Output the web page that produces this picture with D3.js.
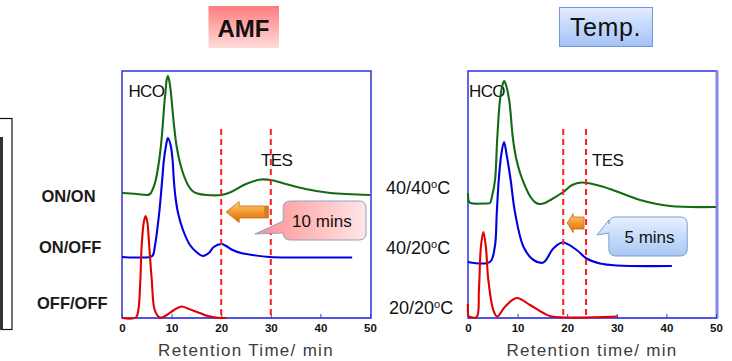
<!DOCTYPE html>
<html>
<head>
<meta charset="utf-8">
<script src="https://cdn.jsdelivr.net/npm/d3@7"></script>
<style>
    body { margin: 0; background: #fff; }
    text { font-family: "Liberation Sans", Arial, sans-serif; }
</style>
</head>
<body>
<script>
// retention time (min), signal (a.u., offset per trace)
var amfOnOn = [[0, 125], [3, 124], [5.5, 123.5], [6.3, 130], [6.8, 138], [7.5, 158], [8.0, 180], [8.6, 218], [8.8, 228],
    [9.0, 238], [9.25, 242], [9.5, 238], [9.8, 228], [10.0, 218], [10.5, 192], [11.0, 172], [11.7, 155], [12.5, 142],
    [13.3, 133], [14.2, 127], [15.2, 124.5], [17, 123], [20, 123], [22, 126], [25, 134], [28, 138.5], [30, 138],
    [33, 134], [37, 129], [42, 125], [50, 123]];
var amfOnOff = [[0, 61], [3, 60.5], [6.1, 62], [6.6, 71], [7.5, 105], [8.1, 138], [8.45, 158], [8.9, 173], [9.25, 180],
    [9.8, 173], [10.2, 158], [10.45, 138], [10.8, 120], [11.3, 105], [12.3, 88], [13.7, 73], [15, 66], [16.3, 62],
    [17.5, 65], [18.5, 71], [20, 74], [21, 72], [22.3, 68], [24, 65], [26.3, 63], [29.8, 61], [35, 60.5], [46.4, 60.5]];
var amfOffOff = [[0, 0], [2.8, 0.5], [3.3, 8], [3.7, 38], [3.95, 71], [4.4, 96], [4.75, 102], [5.1, 96], [5.5, 71],
    [6.0, 38], [6.6, 8], [7.6, 0.5], [8.3, 1], [9, 3], [10.5, 8], [12, 11.5], [13.5, 9], [15.7, 5], [17.3, 2],
    [18.9, 0.5], [21, 0]];

var temp4040 = [[0, 125], [0.15, 117], [0.5, 115], [3.5, 114.5], [4.4, 115], [4.9, 123], [5.45, 138], [5.9, 180],
    [6.45, 218], [7.0, 234], [7.3, 237], [7.6, 234], [8.3, 218], [9.05, 180], [9.7, 160], [10.5, 145], [11.5, 132],
    [12.6, 121], [13.6, 115.5], [14.5, 114], [15.5, 115], [16.8, 118.5], [19.2, 126], [21, 133], [22.9, 135.5],
    [26, 133], [29.2, 128], [34.7, 118], [40.7, 112], [50, 111]];
var temp4020 = [[0, 56], [4.4, 56], [5.4, 71], [5.8, 105], [6.2, 138], [6.7, 163], [7.26, 176], [7.8, 163],
    [8.6, 138], [9.5, 105], [11.2, 71], [13.2, 58], [15.2, 55.5], [17.2, 69.5], [19.1, 75.5], [21.9, 68],
    [23.9, 59.5], [26.6, 54.5], [30, 52.5], [41.1, 52]];
var temp2020 = [[0, 14], [0.1, 2], [0.4, 1], [1.75, 1], [2.2, 28], [2.6, 71], [3.1, 86], [3.6, 71], [4.1, 38],
    [5.1, 8], [5.9, 1.5], [7.5, 11.5], [9.8, 20], [12.5, 13], [15.2, 5], [16.9, 1.5], [30.1, 1.5]];

var tickValues = [0, 10, 20, 30, 40, 50];
var amfLabels = ["ON/ON", "ON/OFF", "OFF/OFF"];
var tempLabels = ["40/40", "40/20", "20/20"];
var amfMarkers = [20, 30];
var tempMarkers = [19.2, 23.8];
var amfShift = "10 mins";
var tempShift = "5 mins";

var colors = ["#136b13", "#0000e0", "#e00000"];

var svg = d3.select("body").append("svg")
    .attr("width", 732)
    .attr("height", 361);

var defs = svg.append("defs");

function gradient(id, horizontal, stops) {
    var grad = defs.append("linearGradient")
        .attr("id", id)
        .attr("x1", 0).attr("y1", 0)
        .attr("x2", horizontal ? 1 : 0)
        .attr("y2", horizontal ? 0 : 1);
    stops.forEach(function(c, i) {
        grad.append("stop")
            .attr("offset", i / (stops.length - 1))
            .attr("stop-color", c);
    });
}
gradient("pinkTitle", false, ["#ff7c7c", "#ffdcdc"]);
gradient("blueTitle", false, ["#e2ecff", "#a4c2f6"]);
gradient("pinkCallout", true, ["#ff8e8e", "#ffe6e6"]);
gradient("blueCallout", false, ["#e8f0ff", "#a8c7f3"]);
gradient("orange", false, ["#fcd27a", "#f19a30", "#d86a08"]);

// partial frame cut at the left edge
svg.append("rect")
    .attr("x", -10).attr("y", 118.5)
    .attr("width", 22).attr("height", 211)
    .attr("fill", "none")
    .attr("stroke", "#111")
    .attr("stroke-width", 1.2);
svg.append("line")
    .attr("x1", 1.5).attr("x2", 1.5)
    .attr("y1", 137).attr("y2", 330)
    .attr("stroke", "#333")
    .attr("stroke-width", 3);

var y = d3.scaleLinear().domain([0, 247]).range([318, 71]);

function drawPanel(p) {
    var x = d3.scaleLinear().domain([0, 50]).range([p.left, p.right]);
    var g = svg.append("g");

    g.append("rect")
        .attr("x", p.left).attr("y", y(247))
        .attr("width", p.right - p.left + 1)
        .attr("height", y(0) - y(247))
        .attr("fill", "none")
        .attr("stroke", "#2323dd")
        .attr("stroke-width", 1.4);
    g.append("line")
        .attr("x1", p.left).attr("x2", p.right + 1)
        .attr("y1", y(0)).attr("y2", y(0))
        .attr("stroke", "#5252e4")
        .attr("stroke-width", 2);
    if (p.rightEdge) {
        g.append("line")
            .attr("x1", p.right + 1).attr("x2", p.right + 1)
            .attr("y1", y(247)).attr("y2", y(0))
            .attr("stroke", "#8585ea")
            .attr("stroke-width", 3);
    }

    var axis = g.append("g")
        .attr("transform", "translate(0," + y(0) + ")")
        .call(d3.axisBottom(x)
            .tickValues(tickValues)
            .tickSizeInner(-4)
            .tickSizeOuter(0)
            .tickPadding(6));
    axis.select(".domain").remove();
    axis.selectAll(".tick line").attr("stroke", "#3a3ae0");
    axis.selectAll(".tick text")
        .style("font-family", "'Liberation Sans', Arial, sans-serif")
        .style("font-size", "11.5px")
        .style("font-weight", "bold")
        .attr("fill", "#111");

    g.append("text")
        .attr("x", (p.left + p.right) / 2)
        .attr("y", 356)
        .attr("text-anchor", "middle")
        .style("font-size", "17px")
        .style("letter-spacing", "1.3px")
        .attr("fill", "#3c3c3c")
        .text(p.xTitle);

    g.append("text")
        .attr("x", x(p.hco[0])).attr("y", y(p.hco[1]))
        .style("font-size", "17px")
        .style("letter-spacing", "-0.6px")
        .attr("fill", "#111")
        .text("HCO");
    g.append("text")
        .attr("x", x(p.tes[0])).attr("y", y(p.tes[1]))
        .style("font-size", "17px")
        .style("letter-spacing", "-0.6px")
        .attr("fill", "#111")
        .text("TES");

    var line = d3.line()
        .x(function(d) { return x(d[0]); })
        .y(function(d) { return y(d[1]); })
        .curve(d3.curveCatmullRom.alpha(0.5));

    g.selectAll(".trace")
        .data(p.series)
        .enter().append("path")
        .attr("class", "trace")
        .attr("d", line)
        .attr("fill", "none")
        .attr("stroke", function(d, i) { return colors[i]; })
        .attr("stroke-width", 2.1)
        .attr("stroke-linejoin", "round");

    g.selectAll(".marker")
        .data(p.markers)
        .enter().append("line")
        .attr("class", "marker")
        .attr("x1", function(d) { return x(d); })
        .attr("x2", function(d) { return x(d); })
        .attr("y1", y(189))
        .attr("y2", y(0))
        .attr("stroke", "#ff1c1c")
        .attr("stroke-width", 2)
        .attr("stroke-dasharray", "6,4");

    return x;
}

var xl = drawPanel({
    left: 122, right: 370,
    series: [amfOnOn, amfOnOff, amfOffOff],
    markers: amfMarkers,
    hco: [1.3, 221], tes: [28, 152],
    xTitle: "Retention Time/ min"
});
var xr = drawPanel({
    left: 468, right: 716, rightEdge: true,
    series: [temp4040, temp4020, temp2020],
    markers: tempMarkers,
    hco: [0.2, 221], tes: [25, 152],
    xTitle: "Retention time/ min"
});

// row labels
svg.selectAll(".amfLabel")
    .data(amfLabels)
    .enter().append("text")
    .attr("class", "amfLabel")
    .attr("x", function(d, i) { return [41.5, 39, 37][i]; })
    .attr("y", function(d, i) { return [202, 253, 309][i]; })
    .style("font-size", "16.5px")
    .style("font-weight", "bold")
    .attr("fill", "#1a1a1a")
    .text(function(d) { return d; });

var tl = svg.selectAll(".tempLabel")
    .data(tempLabels)
    .enter().append("text")
    .attr("class", "tempLabel")
    .attr("x", function(d, i) { return [386, 386, 389][i]; })
    .attr("y", function(d, i) { return [194, 254, 314][i]; })
    .style("font-size", "18px")
    .attr("fill", "#111");
tl.append("tspan").text(function(d) { return d; });
tl.append("tspan").attr("dy", -6).style("font-size", "11px").text("o");
tl.append("tspan").attr("dy", 6).text("C");

// titles
svg.append("rect")
    .attr("x", 208.5).attr("y", 6)
    .attr("width", 70.5).attr("height", 42)
    .attr("fill", "url(#pinkTitle)");
svg.append("text")
    .attr("x", 243.5).attr("y", 36.5)
    .attr("text-anchor", "middle")
    .style("font-size", "24px")
    .style("font-weight", "bold")
    .attr("fill", "#111")
    .text("AMF");

svg.append("rect")
    .attr("x", 559.5).attr("y", 7.5)
    .attr("width", 93).attr("height", 39)
    .attr("fill", "url(#blueTitle)")
    .attr("stroke", "#6f98d4")
    .attr("stroke-width", 1);
svg.append("text")
    .attr("x", 605.5).attr("y", 36)
    .attr("text-anchor", "middle")
    .style("font-size", "25px")
    .style("letter-spacing", "0.6px")
    .attr("fill", "#111")
    .text("Temp.");

// shift arrows and callouts
function arrowPath(x, tip, end, cy, headH, shaftH, headLen) {
    var tx = x(tip), ex = x(end), cyp = y(cy), hx = tx + headLen;
    return "M" + tx + "," + cyp +
        "L" + hx + "," + (cyp - headH / 2) +
        "L" + hx + "," + (cyp - shaftH / 2) +
        "L" + ex + "," + (cyp - shaftH / 2) +
        "L" + ex + "," + (cyp + shaftH / 2) +
        "L" + hx + "," + (cyp + shaftH / 2) +
        "L" + hx + "," + (cyp + headH / 2) + "Z";
}

function calloutPath(x, c) {
    var x0 = x(c.t0), x1 = x(c.t1), y0 = y(c.s0), y1 = y(c.s1), r = 7;
    return "M" + (x0 + r) + "," + y0 +
        "H" + (x1 - r) + "Q" + x1 + "," + y0 + " " + x1 + "," + (y0 + r) +
        "V" + (y1 - r) + "Q" + x1 + "," + y1 + " " + (x1 - r) + "," + y1 +
        "H" + (x0 + r) + "Q" + x0 + "," + y1 + " " + x0 + "," + (y1 - r) +
        "V" + y(c.base[1]) +
        "L" + x(c.tip[0]) + "," + y(c.tip[1]) +
        "L" + x0 + "," + y(c.base[0]) +
        "V" + (y0 + r) + "Q" + x0 + "," + y0 + " " + (x0 + r) + "," + y0 + "Z";
}

svg.append("path")
    .attr("d", arrowPath(xl, 21, 29.5, 106, 21, 12, 13))
    .attr("fill", "url(#orange)")
    .attr("stroke", "#c56a10")
    .attr("stroke-width", 0.8);
svg.append("rect")
    .attr("x", xl(29.5) - 4).attr("y", y(106) - 6)
    .attr("width", 4).attr("height", 12)
    .attr("fill", "#d77a1c");

svg.append("path")
    .attr("d", arrowPath(xr, 20, 23.4, 95, 19, 12, 6))
    .attr("fill", "url(#orange)")
    .attr("stroke", "#c56a10")
    .attr("stroke-width", 0.8);

svg.append("path")
    .attr("d", calloutPath(xl, { t0: 32.5, t1: 49.2, s0: 117, s1: 78, base: [97, 85], tip: [26.8, 84] }))
    .attr("fill", "url(#pinkCallout)")
    .attr("stroke", "#8aa3cc")
    .attr("stroke-width", 1);
svg.append("text")
    .attr("x", xl(40.3)).attr("y", y(91.5))
    .attr("text-anchor", "middle")
    .style("font-size", "17px")
    .attr("fill", "#111")
    .text(amfShift);

svg.append("path")
    .attr("d", calloutPath(xr, { t0: 28.4, t1: 44.2, s0: 101, s1: 62, base: [98, 85], tip: [26, 83] }))
    .attr("fill", "url(#blueCallout)")
    .attr("stroke", "#7f9fd0")
    .attr("stroke-width", 1);
svg.append("text")
    .attr("x", xr(36.6)).attr("y", y(75))
    .attr("text-anchor", "middle")
    .style("font-size", "17px")
    .attr("fill", "#111")
    .text(tempShift);
</script>
</body>
</html>
